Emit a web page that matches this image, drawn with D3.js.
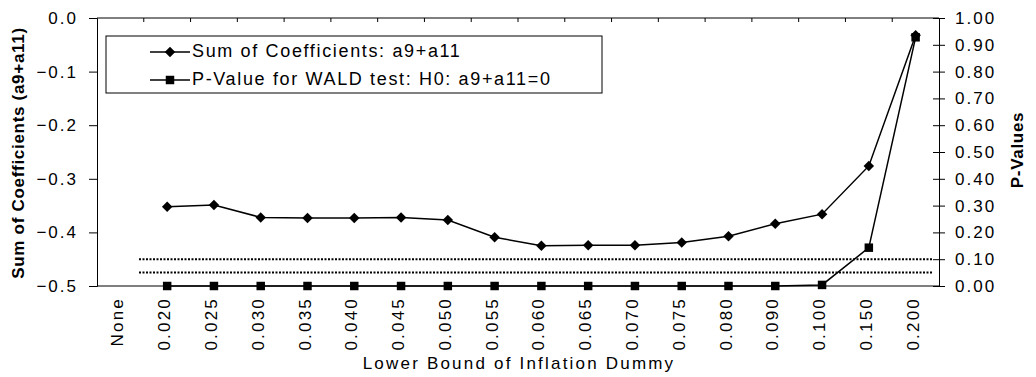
<!DOCTYPE html>
<html>
<head>
<meta charset="utf-8">
<script src="https://cdn.jsdelivr.net/npm/d3@7"></script>
<style>
  body { margin: 0; background: #fff; }
  text { font-family: "Liberation Sans", Arial, sans-serif; fill: #000; }
</style>
</head>
<body>
<svg id="chart" width="1036" height="377"></svg>
<script>
const categories = ["None", "0.020", "0.025", "0.030", "0.035", "0.040", "0.045", "0.050", "0.055",
  "0.060", "0.065", "0.070", "0.075", "0.080", "0.090", "0.100", "0.150", "0.200"];
// null = no value for that category
const sumCoef = [null, -0.352, -0.349, -0.372, -0.373, -0.373, -0.372, -0.377, -0.409,
  -0.425, -0.424, -0.424, -0.419, -0.407, -0.384, -0.366, -0.276, -0.032];
const pValues = [null, 0, 0, 0, 0, 0, 0, 0, 0, 0, 0, 0, 0, 0, 0, 0.004, 0.143, 0.928];
const refLevels = [0.10, 0.05];
const leftTicks = [0, -0.1, -0.2, -0.3, -0.4, -0.5];
const rightTicks = [0, 0.1, 0.2, 0.3, 0.4, 0.5, 0.6, 0.7, 0.8, 0.9, 1.0];

const svg = d3.select("#chart");
const m = { left: 97, right: 939, top: 18, bottom: 286 };

const x = d3.scaleBand().domain(categories).range([m.left, m.right]);
const cx = d => x(d) + x.bandwidth() / 2;
const yL = d3.scaleLinear().domain([-0.5, 0]).range([m.bottom, m.top]);
const yR = d3.scaleLinear().domain([0, 1]).range([m.bottom, m.top]);

// frame lines
svg.append("line").attr("x1", m.left).attr("x2", m.right).attr("y1", m.top).attr("y2", m.top)
  .attr("stroke", "#000");
svg.append("line").attr("x1", m.left).attr("x2", m.right).attr("y1", m.bottom).attr("y2", m.bottom)
  .attr("stroke", "#000");

// category ticks on top line
svg.append("g").selectAll("line").data(categories.slice(1)).join("line")
  .attr("x1", d => x(d)).attr("x2", d => x(d))
  .attr("y1", m.top).attr("y2", m.top + 4).attr("stroke", "#000");

// left axis
const gl = svg.append("g").attr("transform", `translate(${m.left},0)`)
  .call(d3.axisLeft(yL).tickValues(leftTicks).tickFormat(d3.format(".1f")).tickSize(8).tickPadding(11));
gl.select(".domain").attr("stroke", "#000");
gl.selectAll("text").style("font-size", "17px").style("letter-spacing", "2px").attr("font-family", null);

// right axis
const gr = svg.append("g").attr("transform", `translate(${m.right},0)`)
  .call(d3.axisRight(yR).tickValues(rightTicks).tickFormat(d3.format(".2f")).tickSize(6).tickPadding(10));
gr.select(".domain").attr("stroke", "#000");
gr.selectAll(".tick line").attr("x1", -6);
gr.selectAll("text").style("font-size", "17px").style("letter-spacing", "2px").attr("font-family", null);

// category labels
svg.append("g").selectAll("text").data(categories).join("text")
  .attr("transform", d => `translate(${cx(d) + 3},${m.bottom + 11}) rotate(-90)`)
  .attr("text-anchor", "end")
  .style("font-size", "17px").style("letter-spacing", "2.2px")
  .text(d => d);

// axis titles
svg.append("text").attr("transform", `translate(24,${(m.top + m.bottom) / 2 + 1}) rotate(-90)`)
  .attr("text-anchor", "middle").style("font-size", "17px").style("font-weight", "bold")
  .style("letter-spacing", "0.7px")
  .text("Sum of Coefficients (a9+a11)");
svg.append("text").attr("transform", `translate(1023,150) rotate(-90)`)
  .attr("text-anchor", "middle").style("font-size", "17px").style("font-weight", "bold")
  .style("letter-spacing", "0.7px")
  .text("P-Values");
svg.append("text").attr("x", 519).attr("y", 369)
  .attr("text-anchor", "middle").style("font-size", "17px").style("letter-spacing", "2.2px")
  .text("Lower Bound of Inflation Dummy");

// dotted reference lines
svg.append("g").selectAll("line").data(refLevels).join("line")
  .attr("x1", x(categories[0]) + 42).attr("x2", m.right - 7)
  .attr("y1", d => yR(d)).attr("y2", d => yR(d))
  .attr("stroke", "#000").attr("stroke-width", 2).attr("stroke-dasharray", "2 1.5");

// series
const idx = categories.map((c, i) => i);
const lineL = d3.line().defined(i => sumCoef[i] !== null).x(i => cx(categories[i])).y(i => yL(sumCoef[i]));
const lineR = d3.line().defined(i => pValues[i] !== null).x(i => cx(categories[i])).y(i => yR(pValues[i]));

svg.append("path").attr("d", lineR(idx)).attr("fill", "none").attr("stroke", "#000").attr("stroke-width", 1.5);
svg.append("path").attr("d", lineL(idx)).attr("fill", "none").attr("stroke", "#000").attr("stroke-width", 1.5);

const diamond = d3.symbol().type(d3.symbolDiamond2).size(70);
const square = d3.symbol().type(d3.symbolSquare).size(72);

svg.append("g").selectAll("path").data(idx.filter(i => pValues[i] !== null)).join("path")
  .attr("transform", i => `translate(${cx(categories[i])},${yR(pValues[i])})`)
  .attr("d", square).attr("fill", "#000");
svg.append("g").selectAll("path").data(idx.filter(i => sumCoef[i] !== null)).join("path")
  .attr("transform", i => `translate(${cx(categories[i])},${yL(sumCoef[i])})`)
  .attr("d", diamond).attr("fill", "#000");

// legend
const lg = svg.append("g");
lg.append("rect").attr("x", 106).attr("y", 36).attr("width", 496).attr("height", 57)
  .attr("fill", "#fff").attr("stroke", "#000");
const legendItems = [
  { label: "Sum of Coefficients: a9+a11", sym: diamond, y: 52 },
  { label: "P-Value for WALD test: H0: a9+a11=0", sym: square, y: 80 }
];
legendItems.forEach(it => {
  lg.append("line").attr("x1", 150).attr("x2", 190).attr("y1", it.y).attr("y2", it.y)
    .attr("stroke", "#000").attr("stroke-width", 1.5);
  lg.append("path").attr("transform", `translate(170,${it.y})`).attr("d", it.sym).attr("fill", "#000");
  lg.append("text").attr("x", 192).attr("y", it.y + 5)
    .style("font-size", "18px").style("letter-spacing", "1.65px").text(it.label);
});
</script>
</body>
</html>
